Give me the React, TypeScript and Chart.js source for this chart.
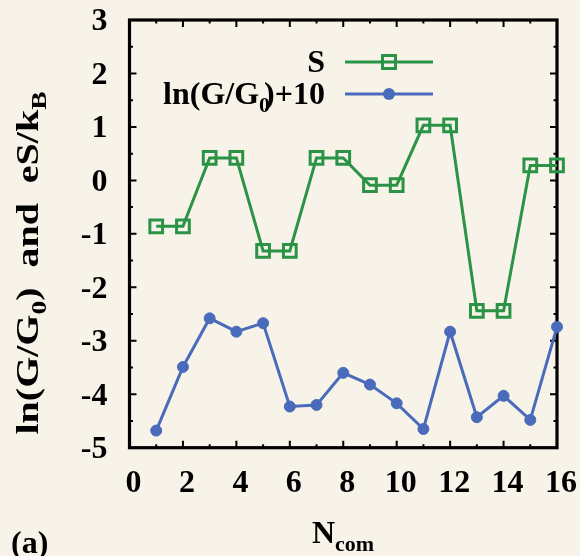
import React, { useEffect, useRef } from 'react';
import { Chart, registerables } from 'chart.js';

Chart.register(...registerables);

// ---- data ----
const nCom = [1, 2, 3, 4, 5, 6, 7, 8, 9, 10, 11, 12, 13, 14, 15, 16];
const entropyS = [-0.86, -0.86, 0.42, 0.42, -1.32, -1.32, 0.42, 0.42, -0.09, -0.09, 1.03, 1.03, -2.44, -2.44, 0.28, 0.28];
const lnConductance = [-4.68, -3.49, -2.58, -2.83, -2.67, -4.23, -4.2, -3.6, -3.82, -4.17, -4.65, -2.83, -4.43, -4.03, -4.48, -2.74];
const xTicks = [0, 2, 4, 6, 8, 10, 12, 14, 16];
const yTicks = [-5, -4, -3, -2, -1, 0, 1, 2, 3];
const seriesNames = ['S', 'ln(G/G0)+10'];

const BG = '#f7f3e8';
const GREEN = '#2a9346';
const BLUE = '#4a6bbb';
const FAMILY = '"Liberation Serif", "Times New Roman", serif';
const MAIN = `bold 32px ${FAMILY}`;
const SUB = `bold 22px ${FAMILY}`;

type Seg = { t: string; sub?: boolean; kern?: number };

function segWidth(ctx: CanvasRenderingContext2D, segs: Seg[]) {
  let w = 0;
  for (const s of segs) {
    ctx.font = s.sub ? SUB : MAIN;
    w += ctx.measureText(s.t).width + (s.kern || 0);
  }
  return w;
}

function drawSegs(ctx: CanvasRenderingContext2D, segs: Seg[], x: number, y: number) {
  let cx = x;
  ctx.textAlign = 'left';
  ctx.textBaseline = 'alphabetic';
  for (const s of segs) {
    ctx.font = s.sub ? SUB : MAIN;
    ctx.fillText(s.t, cx, y + (s.sub ? 8 : 0));
    cx += ctx.measureText(s.t).width + (s.kern || 0);
  }
}

const framePlugin = {
  id: 'frame',
  beforeDatasetsDraw(chart: any) {
    const ctx = chart.ctx as CanvasRenderingContext2D;
    const { left, right, top, bottom } = chart.chartArea;
    const xs = chart.scales.x;
    const ys = chart.scales.y;
    ctx.save();
    ctx.strokeStyle = '#000';
    ctx.lineWidth = 2;
    ctx.beginPath();
    for (let v = 1; v < 16; v++) {
      const px = xs.getPixelForValue(v);
      const len = v % 2 === 0 ? 7 : 3.5;
      ctx.moveTo(px, bottom);
      ctx.lineTo(px, bottom - len);
      ctx.moveTo(px, top);
      ctx.lineTo(px, top + len);
    }
    for (let k = -9; k <= 5; k++) {
      const v = k / 2;
      const py = ys.getPixelForValue(v);
      const len = k % 2 === 0 ? 7 : 3.5;
      ctx.moveTo(left, py);
      ctx.lineTo(left + len, py);
      ctx.moveTo(right, py);
      ctx.lineTo(right - len, py);
    }
    ctx.stroke();
    ctx.lineWidth = 3.2;
    ctx.strokeRect(left, top, right - left, bottom - top);
    ctx.restore();
  },
  afterDraw(chart: any) {
    const ctx = chart.ctx as CanvasRenderingContext2D;
    ctx.save();
    ctx.fillStyle = '#000';

    // legend
    const legendRows: { segs: Seg[]; y: number; color: string; square: boolean }[] = [
      { segs: [{ t: seriesNames[0] }], y: 62, color: GREEN, square: true },
      {
        segs: [{ t: 'ln(G/G' }, { t: '0', sub: true, kern: -6 }, { t: ')+10' }],
        y: 94,
        color: BLUE,
        square: false,
      },
    ];
    for (const row of legendRows) {
      const w = segWidth(ctx, row.segs);
      ctx.fillStyle = '#000';
      drawSegs(ctx, row.segs, 325 - w, row.y + 10);
      ctx.strokeStyle = row.color;
      ctx.lineWidth = 3;
      ctx.beginPath();
      ctx.moveTo(345, row.y);
      ctx.lineTo(433, row.y);
      ctx.stroke();
      if (row.square) {
        ctx.fillStyle = BG;
        ctx.fillRect(389 - 6.5, row.y - 6.5, 13, 13);
        ctx.beginPath();
        ctx.moveTo(383, row.y);
        ctx.lineTo(395, row.y);
        ctx.stroke();
        ctx.strokeRect(389 - 6.5, row.y - 6.5, 13, 13);
      } else {
        ctx.fillStyle = row.color;
        ctx.beginPath();
        ctx.arc(389, row.y, 6, 0, Math.PI * 2);
        ctx.fill();
      }
    }

    // y-axis title (rotated, stretched along its length)
    ctx.fillStyle = '#000';
    const yTitle: Seg[] = [
      { t: 'ln(G/G' },
      { t: '0', sub: true },
      { t: ')  and  eS/k' },
      { t: 'B', sub: true },
    ];
    const yw = segWidth(ctx, yTitle);
    ctx.save();
    ctx.translate(38, 263);
    ctx.rotate(-Math.PI / 2);
    ctx.scale(343 / yw, 1);
    drawSegs(ctx, yTitle, -yw / 2, 0);
    ctx.restore();

    // x-axis title
    const xTitle: Seg[] = [{ t: 'N' }, { t: 'com', sub: true }];
    const xw = segWidth(ctx, xTitle);
    drawSegs(ctx, xTitle, 343 - xw / 2, 543);

    // panel label
    ctx.font = MAIN;
    ctx.textAlign = 'left';
    ctx.fillText('(a)', 11, 553);
    ctx.restore();
  },
};

export default function App() {
  const ref = useRef<HTMLCanvasElement>(null);
  useEffect(() => {
    if (!ref.current) return;
    const chart = new Chart(ref.current, {
      type: 'line',
      data: {
        labels: nCom,
        datasets: [
          {
            label: seriesNames[0],
            data: nCom.map((x, i) => ({ x, y: entropyS[i] })),
            borderColor: GREEN,
            borderWidth: 3,
            pointStyle: 'rect',
            pointRadius: 9,
            pointBorderWidth: 3,
            pointBorderColor: GREEN,
            pointBackgroundColor: 'rgba(0,0,0,0)',
            tension: 0,
            clip: false as any,
          },
          {
            label: seriesNames[1],
            data: nCom.map((x, i) => ({ x, y: lnConductance[i] })),
            borderColor: BLUE,
            borderWidth: 3,
            pointStyle: 'circle',
            pointRadius: 5.5,
            pointBorderWidth: 1,
            pointBorderColor: BLUE,
            pointBackgroundColor: BLUE,
            tension: 0,
            clip: false as any,
          },
        ],
      },
      options: {
        responsive: false,
        animation: false,
        events: [],
        layout: { padding: { left: 0, top: 20, right: 23, bottom: 0 } },
        plugins: { legend: { display: false }, tooltip: { enabled: false } },
        scales: {
          x: {
            type: 'linear',
            min: 0,
            max: 16,
            grid: { display: false, drawTicks: false },
            border: { display: false },
            afterBuildTicks: (s: any) => {
              s.ticks = xTicks.map((v) => ({ value: v }));
            },
            afterFit: (s: any) => {
              s.height = 108.3;
              s.paddingLeft = 0;
              s.paddingRight = 0;
            },
            ticks: {
              color: '#000',
              padding: 17,
              labelOffset: 4,
              maxRotation: 0,
              autoSkip: false,
              font: { family: FAMILY, size: 32, weight: 'bold' },
              callback: (v: any) => String(v),
            },
          },
          y: {
            type: 'linear',
            min: -5,
            max: 3,
            grid: { display: false, drawTicks: false },
            border: { display: false },
            afterBuildTicks: (s: any) => {
              s.ticks = yTicks.map((v) => ({ value: v }));
            },
            afterFit: (s: any) => {
              s.width = 129.5;
              s.paddingTop = 0;
              s.paddingBottom = 0;
            },
            ticks: {
              color: '#000',
              padding: 22,
              labelOffset: 2,
              autoSkip: false,
              font: { family: FAMILY, size: 32, weight: 'bold' },
              callback: (v: any) => String(v),
            },
          },
        },
      } as any,
      plugins: [framePlugin],
    });
    return () => chart.destroy();
  }, []);
  return (
    <div style={{ position: 'fixed', left: 0, top: 0, width: 580, height: 556, background: BG }}>
      <canvas ref={ref} width={580} height={556} style={{ display: 'block' }} />
    </div>
  );
}
